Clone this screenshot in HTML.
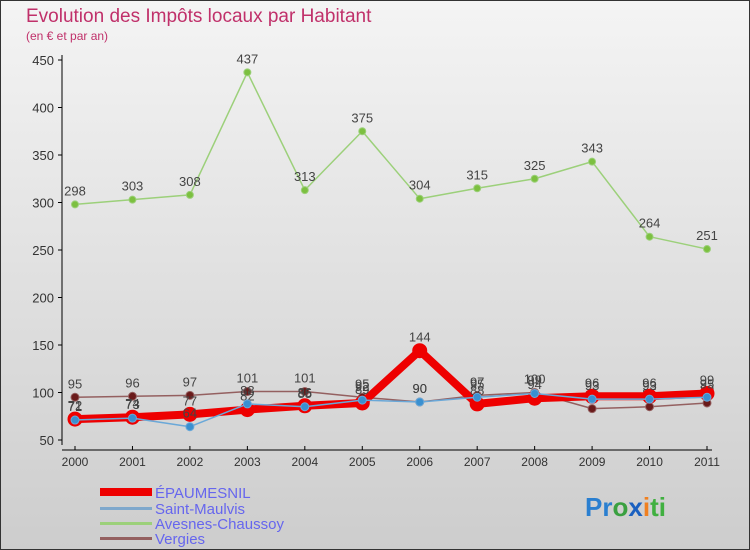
<!DOCTYPE html>
<html><head><meta charset="utf-8"><style>
body{margin:0;width:750px;height:550px;overflow:hidden;font-family:"Liberation Sans",sans-serif}
svg{display:block}
</style></head><body>
<svg id="c" width="750" height="550">
<defs><linearGradient id="bg" x1="0" y1="0" x2="0" y2="1"><stop offset="0" stop-color="#f4f4f4"/><stop offset="1" stop-color="#cdcdcd"/></linearGradient></defs>
<rect x="0.5" y="0.5" width="749" height="549" fill="url(#bg)" stroke="#333"/>
<text x="26" y="22" font-size="19" fill="#c0306a">Evolution des Impôts locaux par Habitant</text>
<text x="26" y="40" font-size="12" fill="#c0306a">(en € et par an)</text>
<g id="axes"></g><g id="series"></g>
<g>
<rect x="100" y="488" width="52" height="8" fill="#e00"/>
<text x="155" y="498" font-size="15" fill="#6666ee">ÉPAUMESNIL</text>
<rect x="100" y="507" width="52" height="3" fill="#7fa8cc"/>
<text x="155" y="514" font-size="15" fill="#6666ee">Saint-Maulvis</text>
<rect x="100" y="522" width="52" height="3" fill="#9cd07a"/>
<text x="155" y="529" font-size="15" fill="#6666ee">Avesnes-Chaussoy</text>
<rect x="100" y="537" width="52" height="3" fill="#946060"/>
<text x="155" y="544" font-size="15" fill="#6666ee">Vergies</text>
</g>
<text x="585" y="516" font-size="26" font-weight="bold"><tspan fill="#2a7fd0">Pr</tspan><tspan fill="#3aa040">o</tspan><tspan fill="#1a60c0">x</tspan><tspan fill="#f08020">i</tspan><tspan fill="#40b040">ti</tspan></text>
</svg>
<script>
const years=["2000","2001","2002","2003","2004","2005","2006","2007","2008","2009","2010","2011"];
const yTicks=[50,100,150,200,250,300,350,400,450];
const epaumesnil=[72,74,77,82,86,89,144,88,94,96,96,99];
const saintMaulvis=[71,73,64,88,85,92,90,95,99,93,93,95];
const avesnes=[298,303,308,437,313,375,304,315,325,343,264,251];
const vergies=[95,96,97,101,101,95,90,97,100,83,85,89];
const NS="http://www.w3.org/2000/svg";
const x=i=>75+i*(707-75)/11;
const y=v=>440-(v-50)*0.95;
function mk(t,a,p){const e=document.createElementNS(NS,t);for(const k in a)e.setAttribute(k,a[k]);p.appendChild(e);return e;}
const ax=document.getElementById('axes');
const yl=mk('line',{x1:62,y1:55,x2:62,y2:445,stroke:'#000'},ax);


const xl=mk('line',{x1:62,y1:450,x2:712,y2:450,stroke:'#000'},ax);


yTicks.forEach(v=>{
 mk('line',{x1:58,y1:y(v),x2:62,y2:y(v),stroke:'#000'},ax);
 const t=mk('text',{x:54,y:y(v)+5,'text-anchor':'end','font-size':13,fill:'#333'},ax);t.textContent=v;
 
 
});
years.forEach((yr,i)=>{
 mk('line',{x1:x(i),y1:446,x2:x(i),y2:450,stroke:'#000'},ax);
 const t=mk('text',{x:x(i),y:466,'text-anchor':'middle','font-size':12,fill:'#333'},ax);t.textContent=yr;
 
 
});
const sg=document.getElementById('series');
function draw(name,data,color,w,r,fill){
 const g=mk('g',{},sg);
 
 
 const pl=mk('polyline',{points:data.map((v,i)=>x(i)+','+y(v)).join(' '),fill:'none',stroke:color,'stroke-width':w,'stroke-linejoin':'round'},g);
 
 
 data.forEach((v,i)=>{
  const c=mk('circle',{cx:x(i),cy:y(v),r:r,fill:fill,stroke:color,'stroke-width':1},g);
  
  
  const t=mk('text',{x:x(i),y:y(v)-9,'text-anchor':'middle','font-size':13,fill:'#444'},g);t.textContent=v;
  
  
 });
}
draw('avesnes',avesnes,'#9cd07a',1.5,3.5,'#7cc040');
draw('vergies',vergies,'#946060',1.5,4,'#6a1a1a');
draw('epaumesnil',epaumesnil,'#ee0000',8,7,'#ee0000');
draw('saint-maulvis',saintMaulvis,'#6aa8d8',1.5,4,'#3a90d0');
</script>
</body></html>
